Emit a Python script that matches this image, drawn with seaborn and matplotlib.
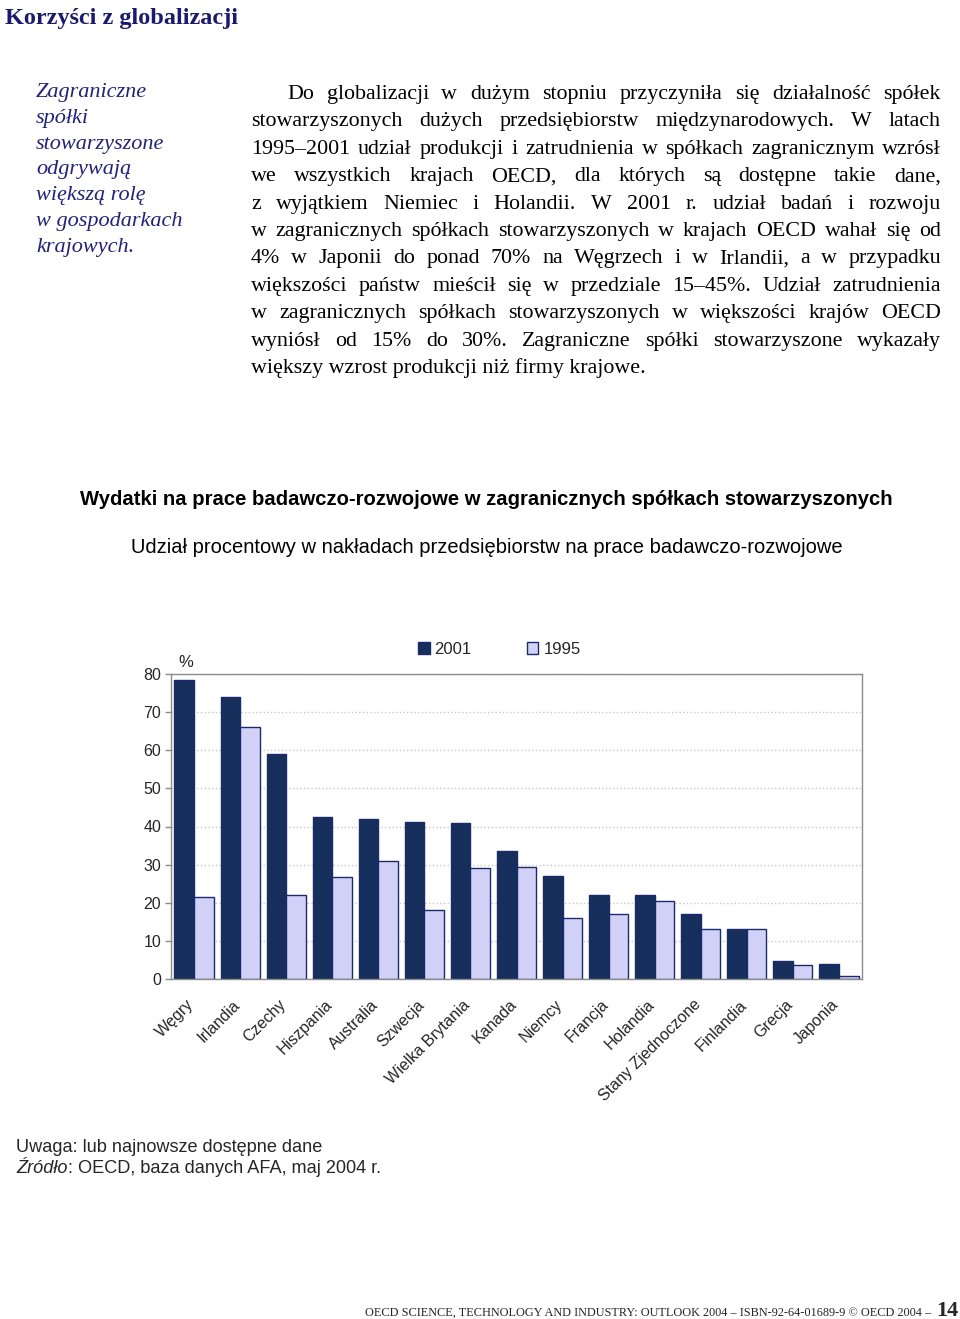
import matplotlib
matplotlib.use('Agg')
import matplotlib.pyplot as plt
import seaborn as sns
import pandas as pd

# ---------------- data ----------------
kraje = ['Węgry', 'Irlandia', 'Czechy', 'Hiszpania', 'Australia', 'Szwecja',
         'Wielka Brytania', 'Kanada', 'Niemcy', 'Francja', 'Holandia',
         'Stany Zjednoczone', 'Finlandia', 'Grecja', 'Japonia']
lata = ['2001', '1995']
udzial_2001 = [78.3, 73.9, 58.9, 42.6, 41.9, 41.1, 40.8, 33.7, 27.1, 22.1, 22.1, 17.1, 13.2, 4.7, 4.0]
udzial_1995 = [21.6, 66.2, 22.0, 26.8, 31.0, 18.2, 29.1, 29.5, 15.9, 17.1, 20.5, 13.2, 13.2, 3.8, 0.7]
y_ticks = [0, 10, 20, 30, 40, 50, 60, 70, 80]

tytul = 'Korzyści z globalizacji'
margines = ['Zagraniczne', 'spółki', 'stowarzyszone', 'odgrywają', 'większą rolę',
            'w gospodarkach', 'krajowych.']
tekst = [
    'Do globalizacji w dużym stopniu przyczyniła się działalność spółek',
    'stowarzyszonych dużych przedsiębiorstw międzynarodowych. W latach',
    '1995–2001 udział produkcji i zatrudnienia w spółkach zagranicznym wzrósł',
    'we wszystkich krajach OECD, dla których są dostępne takie dane,',
    'z wyjątkiem Niemiec i Holandii. W 2001 r. udział badań i rozwoju',
    'w zagranicznych spółkach stowarzyszonych w krajach OECD wahał się od',
    '4% w Japonii do ponad 70% na Węgrzech i w Irlandii, a w przypadku',
    'większości państw mieścił się w przedziale 15–45%. Udział zatrudnienia',
    'w zagranicznych spółkach stowarzyszonych w większości krajów OECD',
    'wyniósł od 15% do 30%. Zagraniczne spółki stowarzyszone wykazały',
    'większy wzrost produkcji niż firmy krajowe.',
]
tytul_wykresu = 'Wydatki na prace badawczo-rozwojowe w zagranicznych spółkach stowarzyszonych'
podtytul = 'Udział procentowy w nakładach przedsiębiorstw na prace badawczo-rozwojowe'
uwaga = 'Uwaga: lub najnowsze dostępne dane'
zrodlo_a = 'Źródło'
zrodlo_b = ': OECD, baza danych AFA, maj 2004 r.'
stopka = 'OECD SCIENCE, TECHNOLOGY AND INDUSTRY: OUTLOOK 2004 – ISBN-92-64-01689-9 © OECD 2004 – '
strona = '14'

# ---------------- style ----------------
sns.set_theme(style='white')
plt.rcParams['font.family'] = ['Liberation Sans', 'DejaVu Sans']

W, H = 960, 1319
fig = plt.figure(figsize=(W / 100, H / 100), dpi=100)
fig.patch.set_facecolor('white')


def px(x, y):
    return x / W, 1 - y / H


NAVY = '#1a1a6e'
SERIF = ['Liberation Serif', 'DejaVu Serif']

# title
fig.text(*px(5, 24), tytul, family=SERIF, fontsize=17.5, fontweight='bold',
         color=NAVY, ha='left', va='baseline')

# margin italic text
for i, s in enumerate(margines):
    fig.text(*px(36, 97 + i * 25.8), s, family=SERIF, fontsize=16, style='italic',
             color='#22227a', ha='left', va='baseline')

# justified body text
renderer = fig.canvas.get_renderer()
BODY_FS = 15.8
x0, x1 = 251, 941
for i, line in enumerate(tekst):
    yb = 99 + i * 27.4
    start = x0 + (36 if i == 0 else 0)
    if i == len(tekst) - 1:
        fig.text(*px(start, yb), line, family=SERIF, fontsize=BODY_FS,
                 color='black', ha='left', va='baseline')
        continue
    words = line.split()
    widths = []
    for w in words:
        t = fig.text(0, 0, w, family=SERIF, fontsize=BODY_FS)
        widths.append(t.get_window_extent(renderer).width)
        t.remove()
    gap = (x1 - start - sum(widths)) / (len(words) - 1)
    xx = start
    for w, wd in zip(words, widths):
        fig.text(*px(xx, yb), w, family=SERIF, fontsize=BODY_FS,
                 color='black', ha='left', va='baseline')
        xx += wd + gap

# chart titles
fig.text(*px(486, 505), tytul_wykresu, fontsize=14.6, fontweight='bold',
         color='black', ha='center', va='baseline')
fig.text(*px(487, 553), podtytul, fontsize=14.5, color='black',
         ha='center', va='baseline')

# ---------------- chart ----------------
ax = fig.add_axes([171 / W, 1 - 979 / H, (862 - 171) / W, (979 - 674) / H])
df = pd.DataFrame({
    'kraj': kraje * 2,
    'rok': [lata[0]] * len(kraje) + [lata[1]] * len(kraje),
    'udzial': udzial_2001 + udzial_1995,
})
sns.barplot(data=df, x='kraj', y='udzial', hue='rok', order=kraje, hue_order=lata,
            palette={'2001': '#0b2a66', '1995': '#ccccff'}, edgecolor='#1b2a6b',
            linewidth=1.0, width=0.85, ax=ax, errorbar=None)

ax.set_xlim(-0.5, len(kraje) - 0.5)
ax.set_ylim(0, 80)
ax.set_yticks(y_ticks)
ax.set_yticklabels([str(v) for v in y_ticks], fontsize=11.5)
# label anchors sit slightly left of the group centre (tick marks are hidden)
ax.set_xticks([i - 0.17 for i in range(len(kraje))])
ax.set_xticklabels(kraje, rotation=45, ha='right', va='top',
                   rotation_mode='anchor', fontsize=11.5)
ax.set_xlabel('')
ax.set_ylabel('')
ax.set_axisbelow(True)
ax.yaxis.grid(True, color='#c8c8c8', linestyle=':', linewidth=1)
ax.xaxis.grid(False)
for sp in ax.spines.values():
    sp.set_visible(True)
    sp.set_color('#8c8c8c')
    sp.set_linewidth(1)
ax.tick_params(axis='y', left=True, length=4, width=1, color='#8c8c8c', pad=3)
ax.tick_params(axis='x', bottom=False, pad=7)
ax.set_facecolor('white')

ax.text(0.011, 1.012, '%', transform=ax.transAxes, fontsize=12, ha='left', va='bottom')

leg = ax.legend(loc='lower center', bbox_to_anchor=(0.475, 1.03), ncol=2, frameon=False,
                fontsize=12, handlelength=0.7, handleheight=0.7, columnspacing=3.3,
                handletextpad=0.3, borderpad=0, title=None)

# ---------------- notes & footer ----------------
fig.text(*px(16, 1152), uwaga, fontsize=13.1, ha='left', va='baseline')
t1 = fig.text(*px(16, 1173), zrodlo_a, fontsize=13.1, style='italic', ha='left', va='baseline')
wz = t1.get_window_extent(renderer).width
fig.text(*px(16 + wz, 1173), zrodlo_b, fontsize=13.1, ha='left', va='baseline')

fig.text(*px(934, 1316), stopka, family=SERIF, fontsize=8.8, ha='right', va='baseline')
fig.text(*px(936, 1316), strona, family=SERIF, fontsize=16, fontweight='bold',
         ha='left', va='baseline')

fig.savefig('out.png', dpi=100, facecolor='white')
